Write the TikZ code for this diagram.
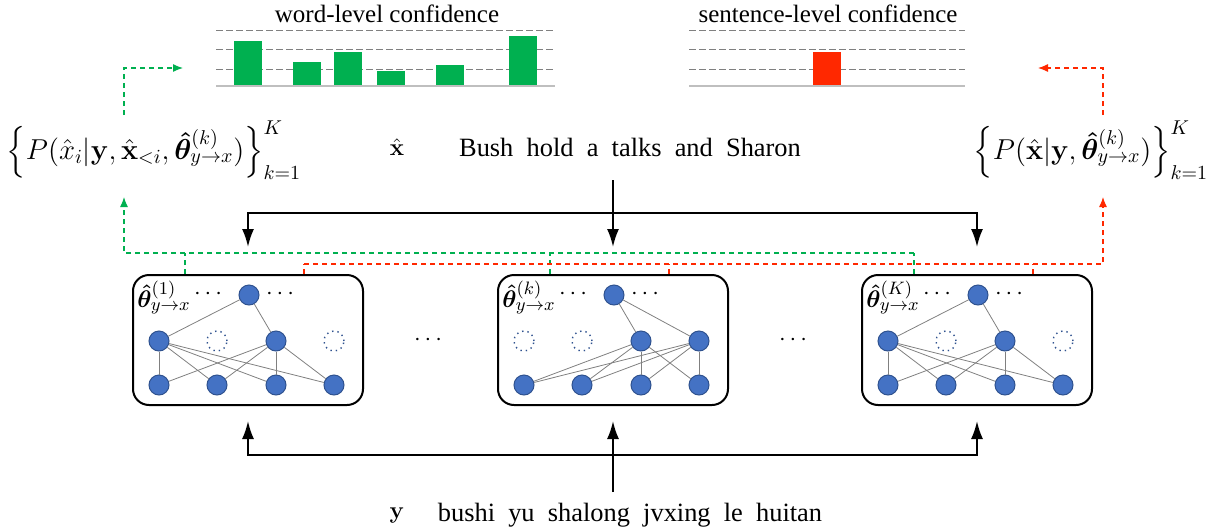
\documentclass[tikz,border=0pt]{standalone}
\usepackage[no-math]{fontspec}
\setmainfont{Liberation Serif}
\usepackage{amsmath}
\usepackage{bm}
\usetikzlibrary{calc}
\usetikzlibrary{arrows.meta}

\definecolor{wgreen}{RGB}{0,176,80}
\definecolor{sred}{RGB}{255,40,0}
\definecolor{nfill}{RGB}{68,114,196}
\definecolor{nline}{RGB}{47,82,143}

\tikzset{
  neu/.style={circle,fill=nfill,draw=nline,line width=0.5pt,minimum size=10pt,inner sep=0pt},
  hole/.style={circle,draw=nline,dotted,line width=0.7pt,minimum size=10pt,inner sep=0pt},
  wire/.style={gray,line width=0.4pt},
  model/.style={draw,line width=1pt,rounded corners=8pt,minimum width=115pt,minimum height=65pt},
  feed/.style={line width=1pt,line join=miter,-{Latex[length=9pt,width=6pt]}},
  conflevel/.style={gray,dash pattern=on 3.5pt off 1.5pt,line width=0.5pt},
  gconf/.style={wgreen,dash pattern=on 2.5pt off 2pt,line width=0.6pt},
  rconf/.style={sred,dash pattern=on 2.5pt off 2pt,line width=0.6pt},
  tip/.style={-{Latex[length=5pt,width=4pt]}},
  score/.style={font=\fontsize{14.5}{17}\selectfont},
  sent/.style={font=\fontsize{13.2}{16}\selectfont}
}

\begin{document}
\begin{tikzpicture}[x=0.5pt,y=-0.5pt,font=\fontsize{12.5}{15}\selectfont]
    \useasboundingbox (0,0) rectangle (1217,531);

    % confidence charts
    \foreach \yy in {30,49,69} {
      \draw[conflevel] (216,\yy) -- (555,\yy);
      \draw[conflevel] (689,\yy) -- (965,\yy);
    }
    \foreach \x/\h in {234/41,293/62,334/52,377/71,436/65,509/36}
      \fill[wgreen] (\x,86) rectangle (\x+28,\h);
    \fill[sred] (813,86) rectangle (841,52);
    \draw[lightgray,line width=1.2pt] (216,86) -- (555,86);
    \draw[lightgray,line width=1.2pt] (689,86) -- (965,86);
    \node (wtitle) at (387,14) {word-level confidence};
    \node (stitle) at (828,14) {sentence-level confidence};
    \coordinate (wchart) at (183,68);
    \coordinate (schart) at (1038,68);

    % confidence scores
    \node[score] (pword) at (154,150)
      {$\left\{P(\hat{x}_i|\mathbf{y},\hat{\mathbf{x}}_{<i},\bm{\hat{\theta}}^{(k)}_{y\to x})\right\}^K_{k=1}$};
    \node[score] (psent) at (1091,150)
      {$\left\{P(\hat{\mathbf{x}}|\mathbf{y},\bm{\hat{\theta}}^{(k)}_{y\to x})\right\}^K_{k=1}$};

    % sampled models
    \foreach \b/\cx in {1/248,2/613,3/977}
      \node[model] (box\b) at (\cx,340) {};
    \foreach \b/\cx/\tk/\sa/\sb/\sc/\sd/\on in
        {1/248/(1)/neu/hole/neu/hole/{1,3},
         2/613/(k)/hole/hole/neu/neu/{3,4},
         3/977/(K)/neu/hole/neu/hole/{1,3}} {
      \node[neu] (t\b) at (\cx+1,295) {};
      \node[\sa] (m\b1) at (\cx-89,341) {};
      \node[\sb] (m\b2) at (\cx-31,341) {};
      \node[\sc] (m\b3) at (\cx+28,341) {};
      \node[\sd] (m\b4) at (\cx+86,341) {};
      \foreach \i/\dx in {1/-89,2/-31,3/28,4/86}
        \node[neu] (n\b\i) at (\cx+\dx,385) {};
      \foreach \m in \on {
        \draw[wire] (t\b) -- (m\b\m);
        \foreach \i in {1,...,4}
          \draw[wire] (m\b\m) -- (n\b\i);
      }
      \node (dl\b) at (\cx-38,294) {$\cdots$};
      \node (dr\b) at (\cx+34,294) {$\cdots$};
      \node[anchor=north west,inner sep=0pt] (th\b) at (\cx-111,281)
        {$\bm{\hat{\theta}}^{\tk}_{y\to x}$};
    }
    \node (gap1) at (430,340) {$\cdots$};
    \node (gap2) at (795,340) {$\cdots$};

    % target side
    \node[sent] (xhat) at (397,147) {$\hat{\mathbf{x}}$};
    \node[sent] (xtext) at (630,147) {Bush~~hold~~a~~talks~~and~~Sharon};
    \coordinate (xin) at (613,180);
    \coordinate (tsplit) at (613,213);
    \draw[feed] (xin) -- ([yshift=13.5pt]box2.north);
    \draw[feed] (tsplit) -| ([yshift=13.5pt]box1.north);
    \draw[feed] (tsplit) -| ([yshift=13.5pt]box3.north);

    % source side
    \node[sent] (ysym) at (397,515) {$\mathbf{y}$};
    \node[sent] (ytext) at (630,515) {bushi~~yu~~shalong~~jvxing~~le~~huitan};
    \coordinate (yin) at (613,492);
    \coordinate (bsplit) at (613,455);
    \draw[feed] (yin) -- ([yshift=-7.5pt]box2.south);
    \draw[feed] (bsplit) -| ([yshift=-7.5pt]box1.south);
    \draw[feed] (bsplit) -| ([yshift=-7.5pt]box3.south);

    % collecting the scores
    \coordinate (gbus) at (124,253);
    \coordinate (gin) at (124,197);
    \coordinate (gout) at (124,115);
    \coordinate (rbus) at (1103,264);
    \coordinate (rin) at (1103,197);
    \coordinate (rout) at (1103,115);
    \foreach \b in {1,2,3} {
      \draw[gconf] ([xshift=-31.5pt]box\b.north) -- ([xshift=-31.5pt]box\b.north |- gbus);
      \draw[rconf] ([xshift=28pt]box\b.north) -- ([xshift=28pt]box\b.north |- rbus);
    }
    \draw[gconf,tip] ([xshift=-31.5pt]box3.north |- gbus) -- (gbus) -- (gin);
    \draw[rconf,tip] ([xshift=28pt]box1.north |- rbus) -- (rbus) -- (rin);
    \draw[gconf,tip] (gout) |- (wchart);
    \draw[rconf,tip] (rout) |- (schart);
  \end{tikzpicture}
\end{document}
